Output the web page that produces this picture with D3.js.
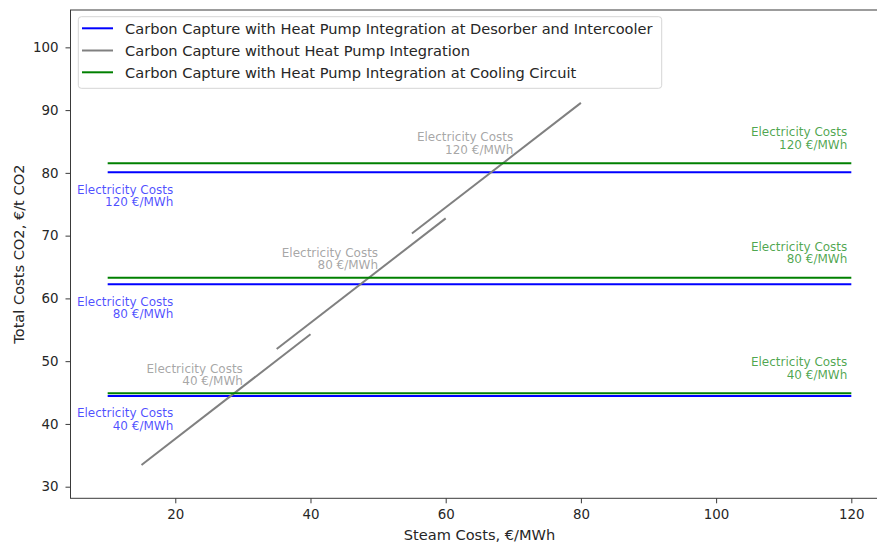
<!DOCTYPE html>
<html>
<head>
<meta charset="utf-8">
<script src="https://cdn.jsdelivr.net/npm/d3@7"></script>
<style>
  html, body { margin: 0; padding: 0; background: #fff; }
  svg { display: block; font-family: "DejaVu Sans", sans-serif; }
</style>
</head>
<body>
<svg id="chart" width="877" height="545"></svg>
<script>
// Electricity price scenarios (€/MWh)
const electricityPrices = [40, 80, 120];

// Heat pump at desorber and intercooler: flat total cost per electricity price
const desorberSteamRange = [10, 120];
const desorberCosts = [44.45, 62.25, 80.1];

// Heat pump at cooling circuit: flat total cost per electricity price
const coolingSteamRange = [10, 120];
const coolingCosts = [44.9, 63.3, 81.55];

// Without heat pump: cost rises with steam price, one segment per electricity price
const noHeatPumpSteam = [[15, 40], [35, 60], [55, 80]];
const noHeatPumpCosts = [[33.45, 54.3], [51.95, 72.75], [70.35, 91.15]];
// Steam price at which each no-heat-pump segment is labelled
const noHeatPumpLabelSteam = [30, 50, 70];

const xTicks = [20, 40, 60, 80, 100, 120];
const yTicks = [30, 40, 50, 60, 70, 80, 90, 100];

const seriesNames = [
  "Carbon Capture with Heat Pump Integration at Desorber and Intercooler",
  "Carbon Capture without Heat Pump Integration",
  "Carbon Capture with Heat Pump Integration at Cooling Circuit"
];
const seriesColors = ["#0000ff", "#808080", "#008000"];
const labelColors = ["rgba(0,0,255,0.7)", "rgba(128,128,128,0.7)", "rgba(0,128,0,0.7)"];

const svg = d3.select("#chart");
const plot = { left: 70.5, right: 888.5, top: 10, bottom: 498.3 };

const x = d3.scaleLinear().domain([4.5, 125.5]).range([plot.left, plot.right]);
const y = d3.scaleLinear().domain([28.15, 105.95]).range([plot.bottom, plot.top]);

const textColor = "#262626";
const spineColor = "#3a3a3a";
const tickFont = 13.4;
const labelFont = 14.6;
const noteFont = 12;
const noteLine = 12.4;

// Axes frame
svg.append("rect")
  .attr("x", plot.left).attr("y", plot.top)
  .attr("width", plot.right - plot.left).attr("height", plot.bottom - plot.top)
  .attr("fill", "none").attr("stroke", spineColor).attr("stroke-width", 1);

// X axis
const xAxis = svg.append("g").attr("transform", `translate(0,${plot.bottom})`)
  .call(d3.axisBottom(x).tickValues(xTicks).tickSize(5).tickPadding(6).tickFormat(d3.format("d")));
xAxis.select(".domain").remove();
xAxis.selectAll("line").attr("stroke", spineColor);
xAxis.selectAll("text").attr("fill", textColor).attr("font-size", tickFont)
  .attr("font-family", "DejaVu Sans");

// Y axis
const yAxis = svg.append("g").attr("transform", `translate(${plot.left},0)`)
  .call(d3.axisLeft(y).tickValues(yTicks).tickSize(5).tickPadding(7).tickFormat(d3.format("d")));
yAxis.select(".domain").remove();
yAxis.selectAll("line").attr("stroke", spineColor);
yAxis.selectAll("text").attr("fill", textColor).attr("font-size", tickFont)
  .attr("font-family", "DejaVu Sans");

// Axis titles
svg.append("text")
  .attr("x", (plot.left + plot.right) / 2).attr("y", 540)
  .attr("text-anchor", "middle").attr("font-size", labelFont).attr("fill", textColor)
  .text("Steam Costs, €/MWh");
svg.append("text")
  .attr("transform", `translate(23.5,${(plot.top + plot.bottom) / 2}) rotate(-90)`)
  .attr("text-anchor", "middle").attr("font-size", labelFont).attr("fill", textColor)
  .text("Total Costs CO2, €/t CO2");

const plotArea = svg.append("g");
const line = d3.line().x(d => x(d[0])).y(d => y(d[1]));

// Flat heat-pump cost lines
function drawFlat(range, costs, color) {
  costs.forEach(c => {
    plotArea.append("path")
      .datum(range.map(s => [s, c]))
      .attr("d", line).attr("fill", "none")
      .attr("stroke", color).attr("stroke-width", 2);
  });
}
drawFlat(desorberSteamRange, desorberCosts, seriesColors[0]);

// Rising lines without heat pump
noHeatPumpSteam.forEach((s, i) => {
  plotArea.append("path")
    .datum(s.map((v, j) => [v, noHeatPumpCosts[i][j]]))
    .attr("d", line).attr("fill", "none")
    .attr("stroke", seriesColors[1]).attr("stroke-width", 2);
});

drawFlat(coolingSteamRange, coolingCosts, seriesColors[2]);

// Two-line annotation, right-aligned, first-line baseline at (px, py)
function note(px, py, price, color) {
  const t = svg.append("text")
    .attr("text-anchor", "end").attr("font-size", noteFont).attr("fill", color);
  t.append("tspan").attr("x", px).attr("y", py).text("Electricity Costs");
  t.append("tspan").attr("x", px).attr("y", py + noteLine).text(`${price} €/MWh`);
}

electricityPrices.forEach((p, i) => {
  // below the desorber line, at its left end
  note(x(20) - 2, y(desorberCosts[i]) + 21.5, p, labelColors[0]);
  // above the cooling-circuit line, at its right end
  note(x(120) - 4, y(coolingCosts[i]) - 27, p, labelColors[2]);
  // sitting on the no-heat-pump segment
  const s = noHeatPumpSteam[i], c = noHeatPumpCosts[i];
  const seg = d3.scaleLinear().domain(s).range(c);
  const ls = noHeatPumpLabelSteam[i];
  note(x(ls), y(seg(ls)) - 14, p, labelColors[1]);
});

// Legend
const legend = svg.append("g");
legend.append("rect")
  .attr("x", 78.3).attr("y", 16.7).attr("width", 583.4).attr("height", 71.6)
  .attr("rx", 3).attr("fill", "rgba(255,255,255,0.8)")
  .attr("stroke", "#d5d5d5").attr("stroke-width", 1);
const rowY = [28.3, 50.5, 72.3];
seriesNames.forEach((name, i) => {
  legend.append("line")
    .attr("x1", 82).attr("x2", 113).attr("y1", rowY[i]).attr("y2", rowY[i])
    .attr("stroke", seriesColors[i]).attr("stroke-width", 2);
  legend.append("text")
    .attr("x", 125).attr("y", rowY[i] + 5.2)
    .attr("font-size", labelFont).attr("fill", textColor)
    .text(name);
});
</script>
</body>
</html>
